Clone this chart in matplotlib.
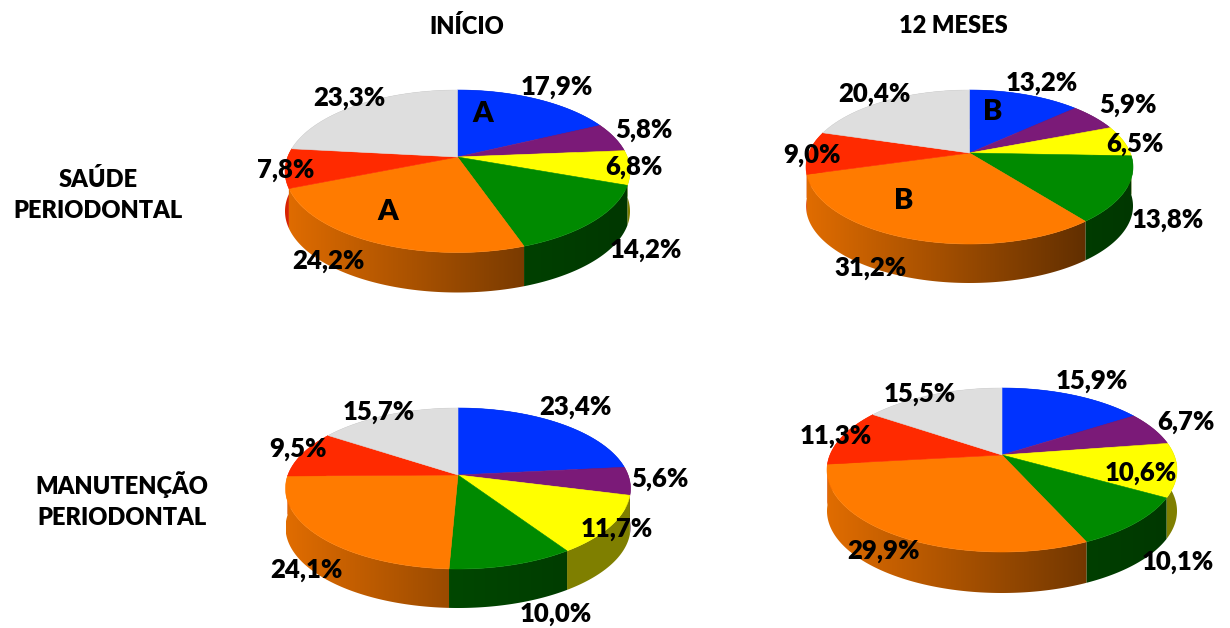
import numpy as np
from matplotlib import pyplot as plt
from matplotlib.colors import to_rgb
from matplotlib.patches import Polygon

plt.rcParams['font.family'] = ['Lato', 'DejaVu Sans']

# slice order, clockwise from 12 o'clock
colors = ['#0033ff', '#7b1a78', '#ffff00', '#008a00', '#ff7b00', '#ff2a00', '#dedede']

saude_inicio = [17.9, 5.8, 6.8, 14.2, 24.2, 7.8, 23.3]
saude_12m = [13.2, 5.9, 6.5, 13.8, 31.2, 9.0, 20.4]
manut_inicio = [23.4, 5.6, 11.7, 10.0, 24.1, 9.5, 15.7]
manut_12m = [15.9, 6.7, 10.6, 10.1, 29.9, 11.3, 15.5]

col_titles = ['INÍCIO', '12 MESES']
row_titles = ['SAÚDE\nPERIODONTAL', 'MANUTENÇÃO\nPERIODONTAL']

# side wall brightness, start + slope * (position across the pie)
side_shade = [(.5, 0), (.5, 0), (.5, 0), (.62, -.22), (.88, -.58), (.85, 0), (.6, 0)]
# walls nearer the viewer go on top of the ones beside them
wall_order = [0, 1, 6, 5, 2, 3, 4]


def project(theta, cx, cy, up, down, half_w):
    # tilted circle seen in perspective, theta clockwise from the back
    k = (down - up) / (down + up)
    ry = up * (1 + k)
    rx = half_w * np.sqrt(1 - k ** 2)
    s = -np.cos(theta)
    d = 1 - k * s
    return cx + rx * np.sin(theta) / d, cy + ry * s / d


def draw_pie(ax, values, cx, cy, up, down, half_w, depth):
    edges = np.radians(np.cumsum([0] + values) * 3.6)
    left = cx - half_w
    # walls first, the top face covers whatever is behind it
    for order, i in enumerate(wall_order):
        start, slope = side_shade[i]
        t = np.linspace(edges[i], edges[i + 1], 120)
        x, y = project(t, cx, cy, up, down, half_w)
        outline = np.c_[np.r_[x, x[::-1]], np.r_[y, y[::-1] + depth]]
        # horizontal gradient, cut to the shape of the wall
        u = np.linspace(0, 1, 256)
        shade = (start + slope * u)[None, :, None] * np.array(to_rgb(colors[i]))
        im = ax.imshow(shade, extent=(left, left + 2 * half_w, cy + down + depth + 2, cy - up - 2),
                       aspect='auto', interpolation='bilinear', zorder=2 + order * 0.01)
        im.set_clip_path(Polygon(outline, closed=True, transform=ax.transData))
    for i, col in enumerate(colors):
        t = np.linspace(edges[i], edges[i + 1], 120)
        x, y = project(t, cx, cy, up, down, half_w)
        ax.fill(np.r_[cx, x], np.r_[cy, y], color=col, lw=0.4, zorder=3)


def pct(v):
    return f'{v:.1f}%'.replace('.', ',')


fig = plt.figure(figsize=(12.3, 6.28), dpi=100)
ax = fig.add_axes([0, 0, 1, 1])
ax.axis('off')

pies = [
    (saude_inicio, 457.5, 157, 67, 95.5, 172.5, 40,
     [(557, 87), (644, 130), (634, 167), (646, 250), (328, 261), (286, 170), (349, 98)]),
    (saude_12m, 969.5, 153, 63, 91, 163.5, 39,
     [(1042, 83), (1128, 105), (1135, 144), (1168, 220), (871, 268), (812, 155), (874, 94)]),
    (manut_inicio, 458, 475, 67, 94, 172.5, 39,
     [(575, 407), (660, 479), (617, 529), (556, 614), (306, 570), (298, 449), (379, 412)]),
    (manut_12m, 1002, 455, 67, 97, 175, 41,
     [(1092, 381), (1186, 422), (1141, 473), (1178, 562), (884, 551), (836, 436), (920, 394)]),
]

for values, cx, cy, up, down, half_w, depth, label_pos in pies:
    draw_pie(ax, values, cx, cy, up, down, half_w, depth)
    for v, (lx, ly) in zip(values, label_pos):
        ax.text(lx, ly, pct(v), fontsize=18.5, fontweight='heavy', ha='center', va='center', zorder=5)

ax.set_xlim(0, 1230)
ax.set_ylim(628, 0)

# significance letters
for letter, lx, ly in [('A', 483, 114), ('A', 388, 212), ('B', 993, 112), ('B', 904, 201)]:
    ax.text(lx, ly, letter, fontsize=21, fontweight='heavy', ha='center', va='center', zorder=5)

ax.text(467, 26, col_titles[0], fontsize=17, fontweight='heavy', ha='center', va='center')
ax.text(953, 26, col_titles[1], fontsize=17, fontweight='heavy', ha='center', va='center')
ax.text(98, 195, row_titles[0], fontsize=17, fontweight='heavy',
        ha='center', va='center', linespacing=1.5)
ax.text(122, 500, row_titles[1], fontsize=17, fontweight='heavy',
        ha='center', va='center', linespacing=1.5)

fig.savefig('out.png', dpi=100)
